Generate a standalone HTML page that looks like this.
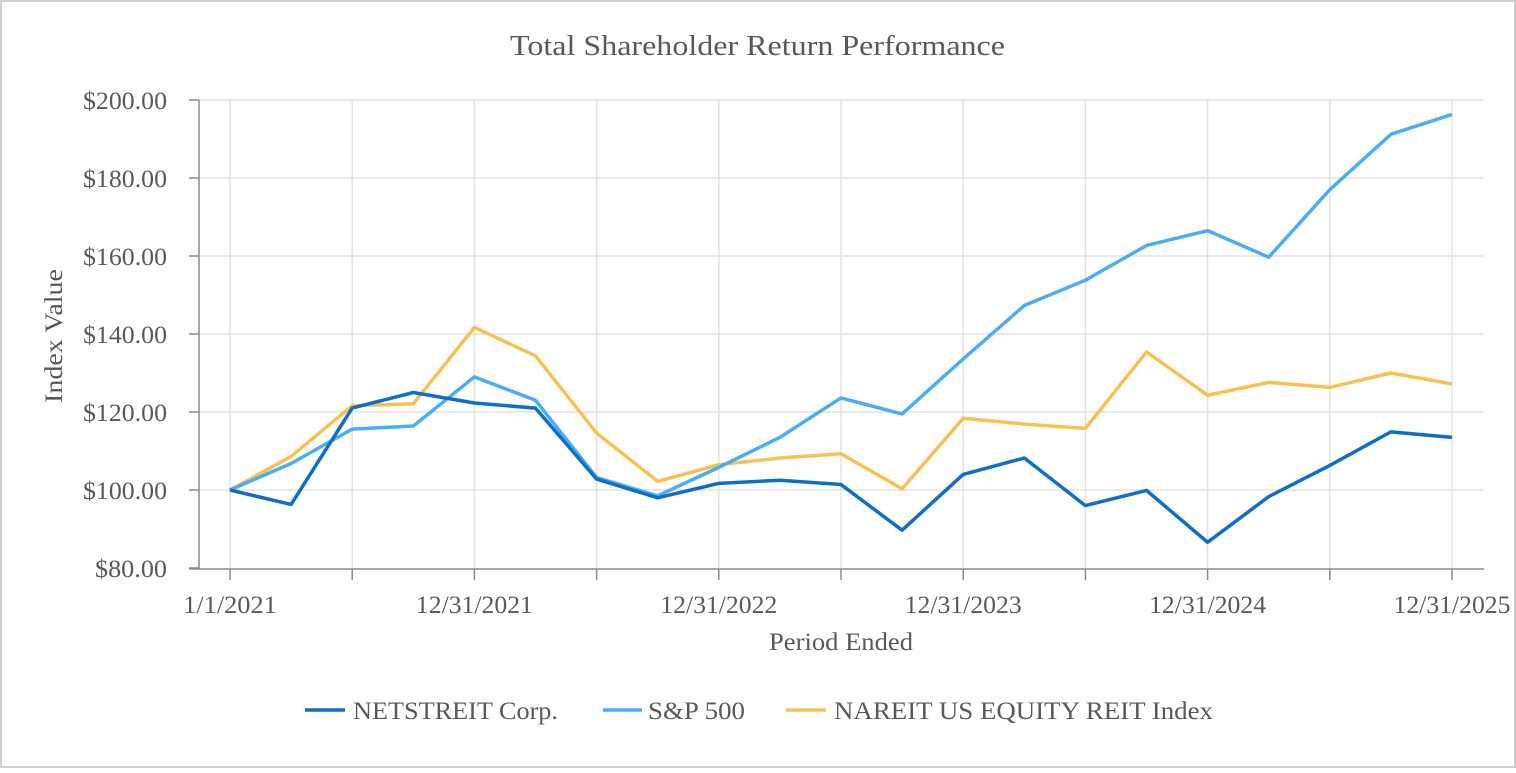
<!DOCTYPE html>
<html><head><meta charset="utf-8"><style>
html,body{margin:0;padding:0;background:#fff}
svg text{font-family:"Liberation Serif",serif;fill:#595959}
</style></head><body>
<svg width="1516" height="768" viewBox="0 0 1516 768" xmlns="http://www.w3.org/2000/svg">
<rect x="1" y="1" width="1514" height="766" fill="#fff" stroke="#d0d0d0" stroke-width="2"/>
<text x="510" y="55" font-size="29" textLength="495" lengthAdjust="spacingAndGlyphs">Total Shareholder Return Performance</text>
<g id="grid"></g>
<g id="axes"></g>
<g id="series"></g>
<text x="0" y="0" font-size="25" textLength="134" lengthAdjust="spacingAndGlyphs" transform="translate(62,403) rotate(-90)">Index Value</text>
<text x="769" y="650" font-size="25" textLength="144" lengthAdjust="spacingAndGlyphs">Period Ended</text>
<g>
<g><line x1="305" y1="710" x2="345" y2="710" stroke="#0f6fc6" stroke-width="3.5"/><text x="353" y="719" font-size="25" textLength="205" lengthAdjust="spacingAndGlyphs">NETSTREIT Corp.</text></g>
<g><line x1="603" y1="710" x2="642" y2="710" stroke="#4aaef5" stroke-width="3.5"/><text x="648" y="719" font-size="25" textLength="97" lengthAdjust="spacingAndGlyphs">S&amp;P 500</text></g>
<g><line x1="786" y1="710" x2="826" y2="710" stroke="#f6c251" stroke-width="3.5"/><text x="834" y="719" font-size="25" textLength="379" lengthAdjust="spacingAndGlyphs">NAREIT US EQUITY REIT Index</text></g>
</g>
</svg>
<script>
const tickLabels=["1/1/2021","12/31/2021","12/31/2022","12/31/2023","12/31/2024","12/31/2025"];
const yTicks=[80,100,120,140,160,180,200];
const netstreit=[100,96.3,121,125,122.3,121,102.8,98,101.7,102.5,101.4,89.7,104,108.2,96,99.9,86.6,98.3,106.3,114.9,113.5];
const sp500=[100,106.8,115.6,116.4,129,123,103.2,98.5,105.8,113.5,123.6,119.5,133.6,147.3,153.8,162.7,166.5,159.7,177,191.2,196.3];
const nareit=[100,108.6,121.6,122.1,141.7,134.4,114.6,102.2,106.5,108.2,109.3,100.3,118.4,116.9,115.8,135.4,124.3,127.6,126.3,130,127.2];
const NS="http://www.w3.org/2000/svg";
const x0=230,x1=1452,yTop=100,yBot=568,vMin=80,vMax=200,n=netstreit.length;
const X=i=>x0+(x1-x0)*i/(n-1);
const Y=v=>yBot-(v-vMin)/(vMax-vMin)*(yBot-yTop);
function mk(tag,attrs,parent){const e=document.createElementNS(NS,tag);for(const k in attrs)e.setAttribute(k,attrs[k]);parent.appendChild(e);return e;}
const grid=document.getElementById('grid'),axes=document.getElementById('axes'),ser=document.getElementById('series');
yTicks.forEach(v=>{
 if(v>vMin){const l=mk('line',{x1:199,x2:1484,y1:Y(v),y2:Y(v),stroke:'#e3e3e3','stroke-width':1.5},grid);
 
 }
 const t=mk('line',{x1:189,x2:199,y1:Y(v),y2:Y(v),stroke:'#8c8c8c','stroke-width':1.5},axes);
 
 
 const s='$'+v.toFixed(2);
 const tx=mk('text',{x:167,y:Y(v)+9,'font-size':25,'text-anchor':'end',textLength:s.length*12,lengthAdjust:'spacingAndGlyphs'},axes);tx.textContent=s;
 
 
});
for(let i=0;i<n;i+=2){
 const l=mk('line',{x1:X(i),x2:X(i),y1:yTop,y2:yBot,stroke:'#e3e3e3','stroke-width':1.5},grid);
 
 
 const t=mk('line',{x1:X(i),x2:X(i),y1:569,y2:580,stroke:'#8c8c8c','stroke-width':1.5},axes);
 
 
}
tickLabels.forEach((s,k)=>{const tx=mk('text',{x:X(k*4),y:613,'font-size':25,'text-anchor':'middle',textLength:s.length*11.7,lengthAdjust:'spacingAndGlyphs'},axes);tx.textContent=s;
 
 });
const ya=mk('line',{x1:199,x2:199,y1:yTop,y2:569,stroke:'#8c8c8c','stroke-width':1.5},axes);


const xa=mk('line',{x1:189,x2:1484,y1:569,y2:569,stroke:'#8c8c8c','stroke-width':1.5},axes);


[[nareit,'#f6c251','nareit-line'],[sp500,'#4aaef5','sp500-line'],[netstreit,'#0f6fc6','netstreit-line']].forEach(([d,c,nm])=>{
 const p=mk('polyline',{points:d.map((v,i)=>X(i)+','+Y(v)).join(' '),fill:'none',stroke:c,'stroke-width':3.5,'stroke-linejoin':'round'},ser);
 
 
});
</script>
</body></html>
